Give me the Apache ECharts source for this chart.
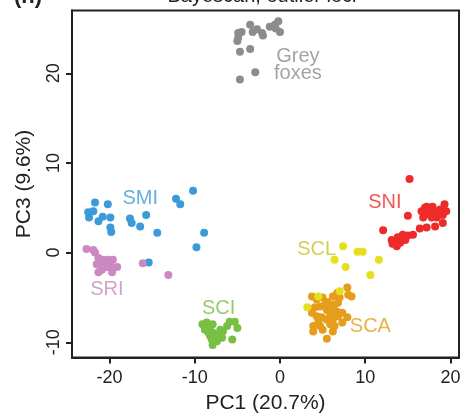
<!DOCTYPE html>
<html><head><meta charset="utf-8">
<script src="https://cdn.jsdelivr.net/npm/echarts@6/dist/echarts.min.js"></script>
<style>html,body{margin:0;padding:0;background:#fff}#c{width:460px;height:414px}</style>
</head><body><div id="c"></div>
<script>
const groups = ['Grey foxes','SMI','SRI','SCI','SCL','SNI','SCA'];
const xTicks = [-20,-10,0,10,20];
const yTicks = [-10,0,10,20];
const grey = [[-4.9,24.5],[-4.5,24.6],[-4.9,24.0],[-3.5,25.4],[-3.2,24.6],[-2.7,24.9],[-2.1,24.5],[-2.0,24.2],[-1.2,25.2],[-0.6,25.4],[-0.2,25.8],[0.0,24.6],[-0.5,25.0],[-4.7,22.4],[-3.5,22.7],[-4.7,19.3],[-2.9,20.1],[-5.0,23.6]];
const smi = [[-21.7,5.6],[-20.2,5.4],[-22.5,4.5],[-21.9,4.6],[-22.4,3.9],[-21.3,3.5],[-20.8,4.0],[-19.9,3.9],[-19.9,2.8],[-19.8,2.3],[-17.6,3.8],[-17.4,3.3],[-16.4,2.9],[-15.7,4.2],[-14.4,2.2],[-12.2,6.0],[-11.7,5.4],[-10.2,6.9],[-8.9,2.2],[-9.8,0.6],[-15.4,-1.1]];
const sri = [[-22.7,0.4],[-21.9,0.3],[-21.7,0.0],[-21.3,-0.6],[-21.1,-0.8],[-20.8,-0.8],[-20.2,-0.8],[-19.6,-0.8],[-19.1,-1.6],[-20.3,-1.6],[-19.7,-2.2],[-21.3,-2.2],[-20.9,-1.9],[-16.1,-1.2],[-13.1,-2.5],[-21.5,-1.3],[-20.5,-1.1],[-19.9,-1.4],[-21.1,-1.4]];
const sci = [[-9.1,-8.0],[-8.6,-7.8],[-8.2,-8.2],[-7.9,-8.0],[-8.8,-8.6],[-8.4,-8.9],[-7.9,-8.9],[-7.4,-9.1],[-8.0,-9.7],[-7.9,-10.3],[-7.0,-8.6],[-6.7,-8.8],[-6.2,-8.2],[-5.9,-7.7],[-5.3,-7.7],[-5.0,-8.4],[-5.6,-9.7],[-6.8,-9.5],[-7.4,-9.9],[-8.2,-9.3],[-7.6,-9.5],[-8.8,-8.4]];
const scl = [[7.4,0.7],[9.1,0.1],[9.7,0.1],[6.4,-0.8],[7.7,-1.6],[11.6,-0.8],[10.6,-2.5],[3.2,-6.1],[4.5,-4.9],[7.0,-4.3]];
const sni = [[15.2,8.2],[15.0,4.1],[12.1,2.5],[13.1,1.4],[13.5,1.2],[13.7,0.7],[13.8,1.7],[14.4,2.0],[14.7,1.4],[15.0,1.9],[15.6,2.0],[16.4,2.7],[17.2,2.8],[18.2,2.9],[19.1,3.3],[17.0,5.0],[17.4,4.5],[17.9,5.1],[18.2,4.6],[18.5,4.2],[19.1,4.2],[19.3,5.4],[18.4,3.9],[17.8,3.9],[16.8,3.9],[18.8,4.8],[17.2,5.1],[13.2,1.0],[14.1,1.1],[17.6,4.5],[16.6,4.6],[19.5,4.6],[17.0,4.2]];
const sca = [[3.75,-4.9],[4.3,-5.2],[5.0,-5.0],[5.6,-5.5],[6.2,-4.9],[6.7,-4.5],[6.8,-5.6],[7.0,-5.0],[7.9,-3.9],[8.0,-4.7],[8.4,-4.9],[4.7,-6.0],[5.5,-6.4],[6.1,-6.1],[6.7,-6.6],[7.3,-6.7],[3.75,-6.7],[4.3,-7.1],[4.9,-7.2],[5.5,-7.5],[6.2,-7.5],[3.9,-8.2],[4.7,-8.2],[5.0,-8.6],[5.9,-8.0],[6.4,-8.2],[7.3,-7.8],[3.9,-8.8],[6.2,-8.8],[5.5,-9.6],[7.9,-7.2],[6.8,-7.1],[5.3,-5.8],[5.9,-6.9],[4.5,-7.7],[6.4,-5.8],[4.1,-6.1]];
const labelText = ['Grey\nfoxes','SMI','SRI','SCI','SCL','SNI','SCA'];
const labelPos = [[2.1,20.9],[-16.4,6.0],[-20.3,-4.1],[-7.2,-6.2],[4.3,0.3],[12.3,5.6],[10.6,-8.2]];

const colors = ['#8c8c8c','#3d9ad8','#cc88c0','#77c043','#e6df1e','#ee2b2b','#e59d1c'];
const labelColors = ['#8c8c8c','#3d9ad8','#cc88c0','#77c043','#c9c22c','#ee2b2b','#e59d1c'];
const sets = [grey, smi, sri, sci, scl, sni, sca];
const FONT = '"Liberation Sans", Arial, sans-serif';

const series = sets.map((d,i)=>({
  name: groups[i], type:'scatter', data:d, symbolSize:8,
  itemStyle:{color:colors[i], opacity:1}, z: i===4?3:2
}));
series.push({
  type:'scatter', symbolSize:0, z:5, silent:true,
  data: labelPos.map((p,i)=>({value:p, label:{color:labelColors[i]}})),
  label:{show:true, position:'inside', fontFamily:FONT, fontSize:20, lineHeight:17,
    formatter:(p)=>labelText[p.dataIndex]}
});

const chart = echarts.init(document.getElementById('c'));
chart.setOption({
  animation:false,
  grid:{left:72, right:1, top:10.5, bottom:56.5, outerBoundsMode:'none', containLabel:false, show:true, borderColor:'#222', borderWidth:2, backgroundColor:'transparent'},
  xAxis:{type:'value', min:-24.4, max:21.0, splitLine:{show:false},
    axisLine:{show:true, onZero:false, lineStyle:{color:'#222', width:2}},
    axisTick:{show:true, customValues:xTicks, length:6, lineStyle:{color:'#222', width:2}},
    axisLabel:{customValues:xTicks, fontFamily:FONT, fontSize:18, color:'#222', margin:12},
    name:'PC1 (20.7%)', nameLocation:'middle', nameGap:33,
    nameTextStyle:{fontFamily:FONT, fontSize:21, color:'#222'}},
  yAxis:{type:'value', min:-11.7, max:27.0, splitLine:{show:false},
    axisLine:{show:true, onZero:false, lineStyle:{color:'#222', width:2}},
    axisTick:{show:true, customValues:yTicks, length:6, lineStyle:{color:'#222', width:2}},
    axisLabel:{customValues:yTicks, rotate:90, fontFamily:FONT, fontSize:18, color:'#222', margin:9},
    name:'PC3 (9.6%)', nameLocation:'middle', nameGap:37,
    nameTextStyle:{fontFamily:FONT, fontSize:21, color:'#222'}},
  graphic:[
    {type:'text', x:262, y:6, style:{text:'Bayescan, outlier loci', font:'20px '+FONT, fill:'#222', textAlign:'center', textVerticalAlign:'bottom'}},
    {type:'text', x:28, y:8, style:{text:'(h)', font:'bold 22px '+FONT, fill:'#222', textAlign:'center', textVerticalAlign:'bottom'}}
  ],
  series: series
});
</script></body></html>
